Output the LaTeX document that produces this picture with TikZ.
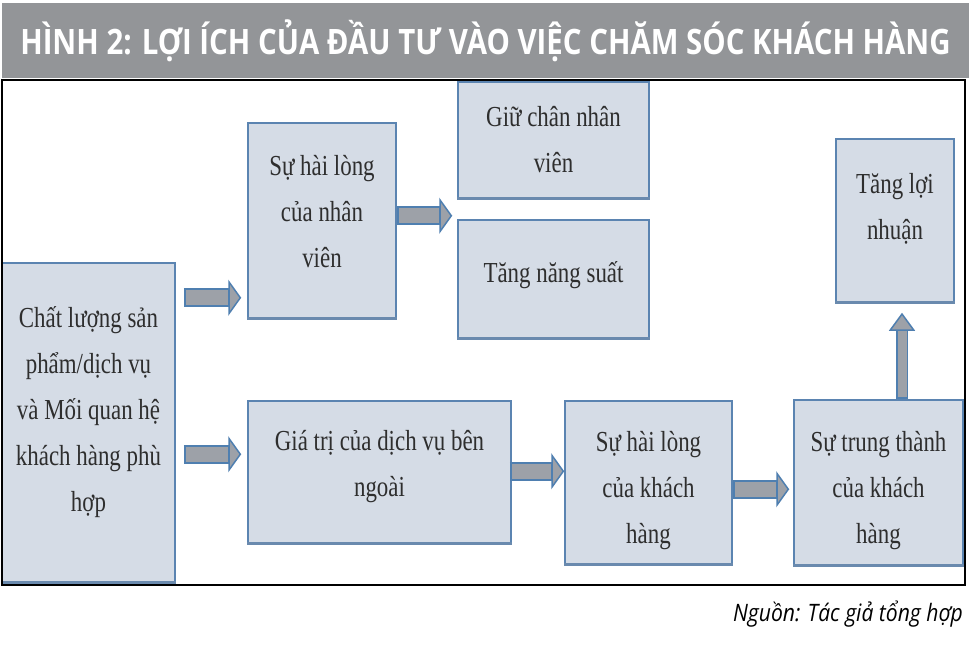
\documentclass[tikz,border=0pt]{standalone}
\usepackage{fontspec}
\usetikzlibrary{arrows.meta,positioning,calc}
\newfontfamily\boxfont[FakeStretch=0.79]{Liberation Serif}
\newfontfamily\titlefont[FakeStretch=0.84]{Open Sans}
\newfontfamily\srcfont[FakeStretch=0.88]{Open Sans}
\definecolor{hdrgray}{HTML}{939598}
\definecolor{boxfill}{HTML}{D5DCE6}
\definecolor{boxline}{HTML}{5B84B1}
\definecolor{boxshade}{HTML}{6A8AAE}
\definecolor{boxtext}{HTML}{2E2E2E}
\definecolor{arrfill}{HTML}{9DA1A8}
\definecolor{arrline}{HTML}{4F7FB0}

\begin{document}
\begin{tikzpicture}
[x=1pt,y=-1pt,
    box/.style={draw=boxline,line width=1.5pt,fill=boxfill,inner sep=0pt,
    append after command={(\tikzlastnode.south west) edge[draw=boxshade,line width=3pt] (\tikzlastnode.south east)}},
    txt/.style={text=boxtext,align=center,inner sep=0pt,
    font=\boxfont\fontsize{29}{46}\selectfont},
    barrow/.style={draw=arrline,line width=19pt,
    -{Triangle[length=13pt,width=36pt,line width=1.5pt,fill=arrfill]},
    postaction={draw=arrfill,line width=15pt,-,shorten <=2pt,shorten >=13pt}},
    varrow/.style={draw=arrline,line width=12pt,
    -{Triangle[length=18pt,width=26pt,line width=1.5pt,fill=arrfill]},
    postaction={draw=arrfill,line width=9pt,-,shorten <=2pt,shorten >=18pt}},
    hdr/.style={fill=hdrgray,text=white,inner sep=0pt,
    font=\titlefont\bfseries\fontsize{35}{40}\selectfont}]
%%%%%%%%%%
\fill[white] (0,0) rectangle (972,645);
\useasboundingbox (0,0) rectangle (972,645);
%% title
\node (head) [hdr,minimum width=967pt,minimum height=75pt] at (485.5,40.5)
{HÌNH 2: LỢI ÍCH CỦA ĐẦU TƯ VÀO VIỆC CHĂM SÓC KHÁCH HÀNG};
%% boxes
\node (b1) [box,minimum width=173pt,minimum height=319pt] at (88.5,422.5) {};
\node (b2) [box,minimum width=148pt,minimum height=195pt] at (322,220.5) {};
\node (b3) [box,minimum width=191pt,minimum height=116pt] at (553.5,140) {};
\node (b4) [box,minimum width=191pt,minimum height=118pt] at (553.5,279) {};
\node (b5) [box,minimum width=263pt,minimum height=142pt] at (379.5,472) {};
\node (b6) [box,minimum width=167pt,minimum height=163pt] at (648.5,482.5) {};
\node (b7) [box,minimum width=169pt,minimum height=165pt] at (878.5,482.5) {};
\node (b8) [box,minimum width=118pt,minimum height=163pt] at (895,220.5) {};
%% box texts
\node (t1) [txt] at ($(b1)+(0,-10)$)
{Chất lượng sản\\phẩm/dịch vụ\\và Mối quan hệ\\khách hàng phù\\hợp};
\node (t2) [txt] at ($(b2)+(0,-9)$) {Sự hài lòng\\của nhân\\viên};
\node (t3) [txt] at (b3) {Giữ chân nhân\\viên};
\node (t4) [txt] at ($(b4)+(0,-4)$) {Tăng năng suất};
\node (t5) [txt] at ($(b5)+(0,-5)$) {Giá trị của dịch vụ bên\\ngoài};
\node (t6) [txt] at ($(b6)+(0,8)$) {Sự hài lòng\\của khách\\hàng};
\node (t7) [txt] at ($(b7)+(0,8)$) {Sự trung thành\\của khách\\hàng};
\node (t8) [txt] at ($(b8)+(0,-12)$) {Tăng lợi\\nhuận};
%% arrows
\draw[barrow] ($(b1.east |- b2.south)+(8,-21)$) -- ($(b2.south west)+(-6,-21)$);
\draw[barrow] ($(b1.east |- b5.north)+(8,54)$) -- ($(b5.north west)+(-6,54)$);
\draw[barrow] ($(b2.east |- b3.south)+(0,17)$) -- ($(b3.south west)+(-5,17)$);
\draw[barrow] ($(b5.east |- b6.north)+(-2,71)$) -- ($(b6.north west)+(0,71)$);
\draw[barrow] ($(b6.east |- b7.north)+(0,90)$) -- ($(b7.north west)+(-4,90)$);
\draw[varrow] ($(b7.north -| b8.south)+(7,0)$) -- ($(b8.south)+(7,10)$);
%% frame and source
\node (frame) [draw,line width=2pt,inner sep=0pt,minimum width=963pt,
minimum height=505pt] at (483.5,332.5) {};
\node (src) [anchor=base east,inner sep=0pt,
font=\srcfont\itshape\fontsize{24}{28}\selectfont] at (963,621)
{Nguồn: Tác giả tổng hợp};
\end{tikzpicture}
\end{document}
